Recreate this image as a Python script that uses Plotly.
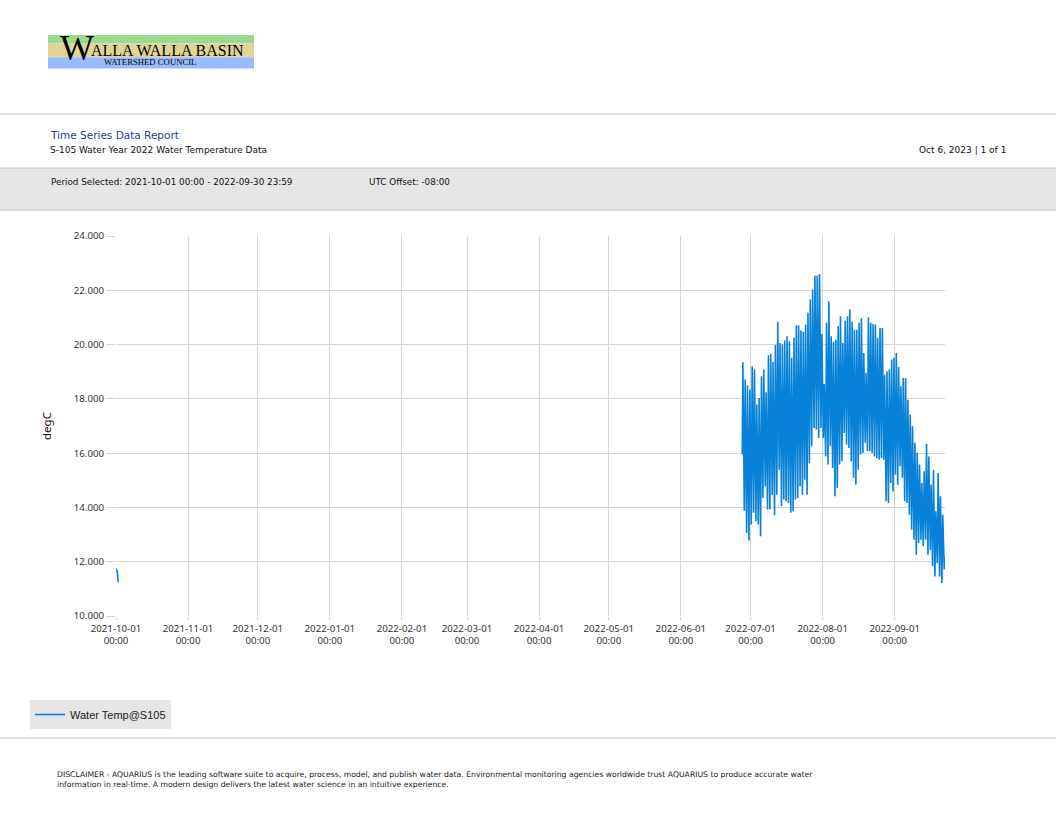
import pandas as pd
import plotly.graph_objects as go

# early fragment at start of the water year
early_times = ["2021-10-01 00:00", "2021-10-01 12:00", "2021-10-01 23:00"]
early_temps = [11.75, 11.65, 11.25]

# summer record, read as daily highs (afternoon) and lows (next morning)
summer_start = "2022-06-27"
first_temp = 15.95
last_temp = 12.20
daily_high = [19.35, 18.71, 18.50, 18.34, 19.20, 19.08, 17.79, 18.03, 18.83, 19.08,
              18.24, 19.61, 19.66, 19.36, 19.98, 20.84, 20.06, 20.00, 20.15, 20.31,
              20.12, 19.51, 20.25, 20.71, 20.71, 20.52, 20.47, 20.74, 21.17, 21.66,
              22.03, 22.54, 22.54, 22.60, 20.39, 18.55, 20.80, 21.60, 20.31, 20.10,
              20.18, 20.68, 21.04, 20.06, 20.88, 21.04, 21.29, 20.84, 20.55, 20.55,
              20.80, 20.98, 19.69, 18.96, 21.01, 20.80, 20.76, 20.74, 20.25,
              20.61, 20.61, 18.89, 19.02, 19.08, 19.45, 19.51, 19.69, 19.18, 18.46,
              18.77, 18.77, 17.97, 17.42, 16.99, 16.38, 16.01, 15.58, 14.90, 15.33,
              16.35, 15.88, 14.84, 15.39, 13.86, 15.27, 14.41, 13.73]
daily_low = [13.88, 13.06, 12.78, 13.37, 13.80, 13.49, 13.37, 12.94, 14.35, 14.78,
             13.92, 13.92, 14.47, 13.71, 14.47, 15.39, 14.04, 14.29, 14.23, 14.16,
             13.80, 13.86, 14.29, 14.35, 14.78, 14.47, 15.02, 14.47, 15.64,
             16.25, 16.93, 16.87, 16.56, 16.93, 16.56, 15.88, 15.58, 16.25, 15.45,
             14.41, 14.72, 15.58, 15.70, 16.74, 16.31, 16.19, 15.70, 15.09, 14.84,
             15.39, 15.95, 16.01, 16.38, 16.07, 16.07, 16.01, 15.88, 15.82, 15.76,
             15.82, 15.76,
             14.23, 14.16, 14.90, 14.59, 15.21, 14.84, 15.52, 15.09, 14.23, 14.16,
             13.73, 13.18, 12.81, 12.26, 12.69, 12.81, 12.57, 12.81, 12.26, 12.44,
             11.83, 11.46, 11.95, 11.46, 11.22, 11.71]

tick_dates = ["2021-10-01", "2021-11-01", "2021-12-01", "2022-01-01", "2022-02-01",
              "2022-03-01", "2022-04-01", "2022-05-01", "2022-06-01", "2022-07-01",
              "2022-08-01", "2022-09-01"]
y_ticks = [10, 12, 14, 16, 18, 20, 22, 24]

# build the time series
t0 = pd.Timestamp(summer_start)
times = [t0 + pd.Timedelta(hours=10)]
temps = [first_temp]
for d, (hi, lo) in enumerate(zip(daily_high, daily_low)):
    times.append(t0 + pd.Timedelta(days=d, hours=16))
    temps.append(hi)
    times.append(t0 + pd.Timedelta(days=d, hours=31))
    temps.append(lo)
times.append(times[-1] + pd.Timedelta(hours=5))
temps.append(last_temp)

all_x = [pd.Timestamp(t) for t in early_times] + [None] + times
all_y = early_temps + [None] + temps

W, H = 1056, 816
L, R, T, B = 116, 945, 236, 616


def px(x):
    return (x - L) / (R - L)


def py(y):
    return (B - y) / (B - T)


fig = go.Figure()
fig.add_trace(go.Scatter(x=all_x, y=all_y, mode="lines", name="Water Temp@S105",
                         line=dict(color="#0882d8", width=1.6), connectgaps=False))

tick_font = dict(family="Noto Sans", size=9.7, color="#333333")
fig.update_layout(
    width=W, height=H, autosize=False,
    margin=dict(l=L, r=W - R, t=T, b=H - B, pad=0),
    paper_bgcolor="white", plot_bgcolor="white",
    showlegend=True,
    legend=dict(x=px(30), y=py(700), xanchor="left", yanchor="top",
                bgcolor="#e6e6e6", borderwidth=0,
                font=dict(family="Liberation Sans", size=11, color="#222222"),
                itemwidth=30),
    xaxis=dict(type="date",
               range=[pd.Timestamp("2021-10-01"), times[-1] + pd.Timedelta(hours=3)],
               tickvals=tick_dates,
               ticktext=[d + "<br>00:00" for d in tick_dates],
               showgrid=True, gridcolor="#d4d4d4", gridwidth=1,
               ticks="outside", ticklen=3, tickcolor="#d4d4d4",
               showline=False, zeroline=False, tickfont=tick_font),
    yaxis=dict(range=[10, 24], tickvals=y_ticks, tickformat=".3f",
               showgrid=True, gridcolor="#d4d4d4", gridwidth=1,
               ticks="outside", ticklen=9, tickcolor="#d4d4d4",
               showline=False, zeroline=False, tickfont=tick_font),
)

shapes = [
    # logo bands
    dict(type="rect", x0=px(48), x1=px(254), y0=py(35), y1=py(43.3),
         fillcolor="#96db8e", line_width=0),
    dict(type="rect", x0=px(48), x1=px(254), y0=py(43.3), y1=py(57.3),
         fillcolor="#e3d397", line_width=0),
    dict(type="rect", x0=px(48), x1=px(254), y0=py(57.3), y1=py(68.5),
         fillcolor="#99bbff", line_width=0),
    # header rules and grey band
    dict(type="line", x0=px(0), x1=px(W), y0=py(114), y1=py(114),
         line=dict(color="#c4c4c4", width=1)),
    dict(type="rect", x0=px(0), x1=px(W), y0=py(168), y1=py(210),
         fillcolor="#e6e6e6", line_width=0),
    dict(type="line", x0=px(0), x1=px(W), y0=py(168), y1=py(168),
         line=dict(color="#c4c4c4", width=1)),
    dict(type="line", x0=px(0), x1=px(W), y0=py(210), y1=py(210),
         line=dict(color="#c4c4c4", width=1)),
    dict(type="line", x0=px(0), x1=px(W), y0=py(738), y1=py(738),
         line=dict(color="#c4c4c4", width=1)),
]
for s in shapes:
    s.update(xref="paper", yref="paper", layer="below")
fig.update_layout(shapes=shapes)

hdr = "DejaVu Sans"
notes = [
    dict(x=px(58), y=py(48), text="W", xanchor="left", yanchor="middle",
         font=dict(family="Liberation Serif", size=36, color="black")),
    dict(x=px(89), y=py(50.5), text="ALLA WALLA BASIN", xanchor="left", yanchor="middle",
         font=dict(family="Liberation Serif", size=16, color="black")),
    dict(x=px(102), y=py(62), text="WATERSHED COUNCIL", xanchor="left", yanchor="middle",
         font=dict(family="Liberation Serif", size=8.7, color="black")),
    dict(x=px(48), y=py(135), text="Time Series Data Report", xanchor="left", yanchor="middle",
         font=dict(family=hdr, size=10.5, color="#1f3c98")),
    dict(x=px(48), y=py(149.5), text="S-105 Water Year 2022 Water Temperature Data",
         xanchor="left", yanchor="middle", font=dict(family=hdr, size=9, color="#111111")),
    dict(x=px(1008), y=py(149.5), text="Oct 6, 2023 | 1 of 1", xanchor="right", yanchor="middle",
         font=dict(family=hdr, size=9, color="#111111")),
    dict(x=px(49), y=py(182.5), text="Period Selected: 2021-10-01 00:00 - 2022-09-30 23:59",
         xanchor="left", yanchor="middle", font=dict(family=hdr, size=8.8, color="#111111")),
    dict(x=px(367), y=py(182.5), text="UTC Offset: -08:00",
         xanchor="left", yanchor="middle", font=dict(family=hdr, size=8.8, color="#111111")),
    dict(x=px(46), y=py(426), text="degC", textangle=-90, xanchor="center", yanchor="middle",
         font=dict(family="Noto Sans", size=11.5, color="#111111")),
    dict(x=px(55), y=py(779.5),
         text="DISCLAIMER - AQUARIUS is the leading software suite to acquire, process, model, and "
              "publish water data. Environmental monitoring agencies worldwide trust AQUARIUS to "
              "produce accurate water<br>information in real-time. A modern design delivers the "
              "latest water science in an intuitive experience.",
         xanchor="left", yanchor="middle", align="left",
         font=dict(family=hdr, size=7.7, color="#222222")),
]
for n in notes:
    n.update(xref="paper", yref="paper", showarrow=False)
fig.update_layout(annotations=notes)

fig.write_html("out.html", config={"displayModeBar": False},
               post_script="document.body.style.margin='0';")
